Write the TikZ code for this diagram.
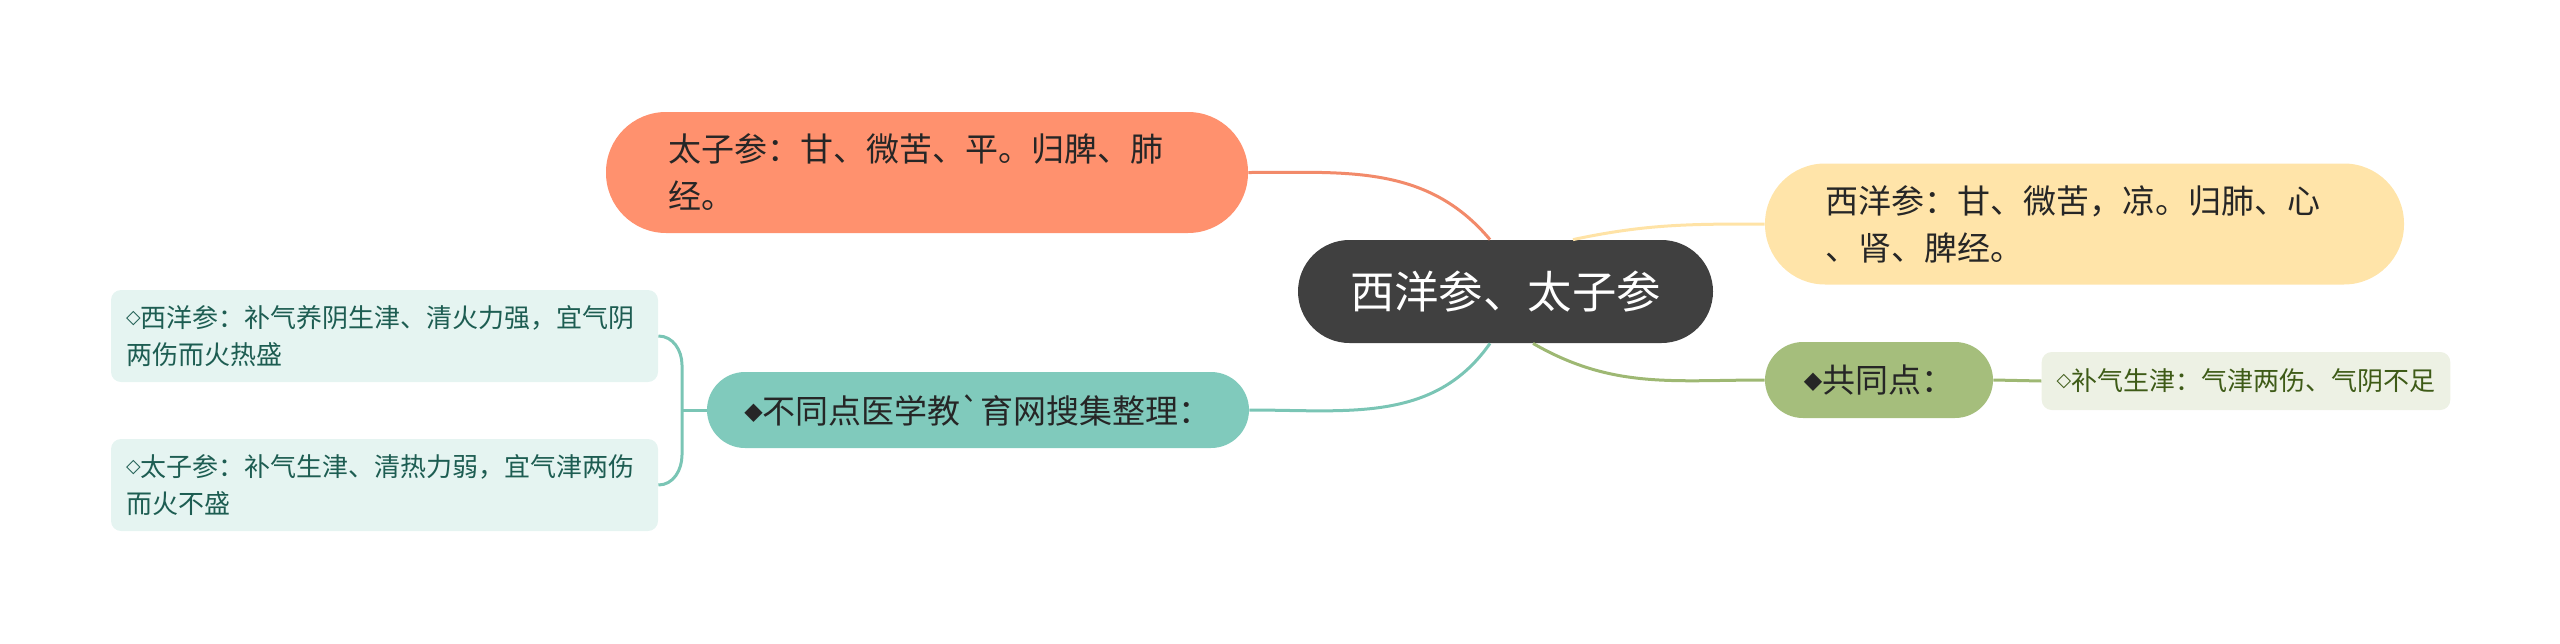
\documentclass[tikz,border=0pt]{standalone}
\usepackage{fontspec}
\setmainfont{Noto Sans CJK SC}
\newfontfamily\dejavu{DejaVu Sans}
\usepackage{tikz}
\usetikzlibrary{positioning}
\definecolor{centre}{HTML}{404040}
\definecolor{ink}{HTML}{262626}
\definecolor{orangefill}{HTML}{FF916E}
\definecolor{orangeline}{HTML}{F28A6A}
\definecolor{yellowfill}{HTML}{FFE4A9}
\definecolor{yellowline}{HTML}{FFE3A6}
\definecolor{greenfill}{HTML}{A5BE7C}
\definecolor{greenline}{HTML}{9EB873}
\definecolor{tealfill}{HTML}{80CABC}
\definecolor{tealline}{HTML}{7AC5B5}
\definecolor{tealleaf}{HTML}{E5F4F1}
\definecolor{tealink}{HTML}{1D5D52}
\definecolor{greenleaf}{HTML}{EDF1E4}
\definecolor{greenink}{HTML}{3E5B17}
\newcommand{\bdot}{\raisebox{2pt}{\dejavu\fontsize{12}{12}\selectfont ◆}}
\newcommand{\hdot}{\raisebox{2pt}{\dejavu\fontsize{9.5}{9.5}\selectfont ◇}}

\begin{document}
\begin{tikzpicture}[x=0.5pt,y=-0.5pt,
  topic/.style={fill=centre,text=white,rounded corners=25.75pt,minimum width=207.5pt,minimum height=51.5pt,inner sep=0pt,font=\fontsize{22.2}{26}\selectfont},
  branch/.style={rounded corners=30pt,minimum height=60.5pt,inner xsep=30pt,inner ysep=0pt,align=left,text=ink,font=\fontsize{16.5}{23.5}\selectfont},
  tag/.style={rounded corners=19pt,minimum height=38pt,inner sep=0pt,align=center,text=ink,font=\fontsize{16.5}{20}\selectfont},
  leaf/.style={rounded corners=5pt,inner xsep=7.5pt,inner ysep=0pt,align=left,font=\fontsize{13}{18.5}\selectfont},
  link/.style={line width=1.5pt}]
\useasboundingbox (0,0) rectangle (2560,643);
\node[topic] (c) at (1505.5,291.5) {西洋参、太子参};
\node[branch,fill=orangefill,text width=259pt,inner xsep=31pt] (taizi) at (927,172.5) {太子参：甘、微苦、平。归脾、肺\\经。};
\node[branch,fill=yellowfill,text width=259.5pt] (xiyang) at (2084.5,224) {西洋参：甘、微苦，凉。归肺、心\\、肾、脾经。};
\node[tag,fill=greenfill,minimum width=114pt] (same) at (1879,380) {\bdot 共同点：};
\node[tag,fill=tealfill,minimum width=271pt] (diff) at (978,410) {\bdot 不同点医学教\textasciigrave 育网搜集整理：};
\node[leaf,fill=greenleaf,text=greenink,minimum width=203pt,minimum height=29pt] (samel) at (2246,381) {\hdot 补气生津：气津两伤、气阴不足};
\node[leaf,fill=tealleaf,text=tealink,text width=258.5pt,minimum height=46pt] (diffa) at (384.5,336) {\hdot 西洋参：补气养阴生津、清火力强，宜气阴\\两伤而火热盛};
\node[leaf,fill=tealleaf,text=tealink,text width=258.5pt,minimum height=46pt] (diffb) at (384.5,485) {\hdot 太子参：补气生津、清热力弱，宜气津两伤\\而火不盛};
\coordinate (brace) at (682,410);
\coordinate (bracetop) at (682,365);
\coordinate (bracebot) at (682,455);
\draw[link,draw=orangeline] (taizi.east) to[out=0,in=130] ([xshift=-7.75pt]c.north);
\draw[link,draw=yellowline] ([xshift=33.75pt]c.north) to[out=12,in=180] (xiyang.west);
\draw[link,draw=greenline] ([xshift=13.75pt]c.south) to[out=-30,in=180] (same.west);
\draw[link,draw=tealline] ([xshift=-7.75pt]c.south) to[out=-125,in=0] (diff.east);
\draw[link,draw=greenline] (same.east) -- (samel.west);
\draw[link,draw=tealline] (diff.west) -- (brace);
\draw[link,draw=tealline] (diffa.east) to[out=0,in=90] (bracetop) -- (bracebot) to[out=-90,in=0] (diffb.east);
\end{tikzpicture}
\end{document}
